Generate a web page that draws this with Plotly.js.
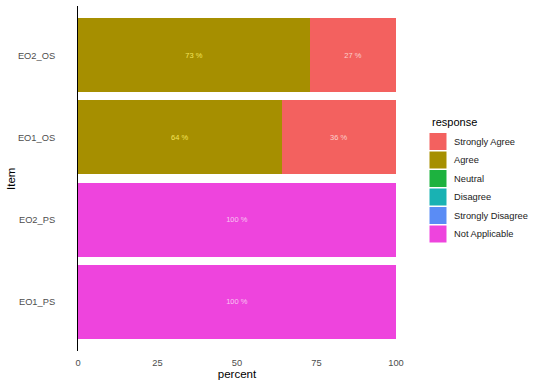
<!DOCTYPE html>
<html>
<head>
<meta charset="utf-8">
<script src="https://cdn.plot.ly/plotly-3.0.1.min.js"></script>
<style>html,body{margin:0;padding:0;background:#fff}#chart{width:540px;height:386px}</style>
</head>
<body>
<div id="chart"></div>
<script>
// Items (bottom to top)
const items = ['EO1_PS', 'EO2_PS', 'EO1_OS', 'EO2_OS'];
// Responses in legend order
const responses = ['Strongly Agree', 'Agree', 'Neutral', 'Disagree', 'Strongly Disagree', 'Not Applicable'];
// Percent values per response, aligned with items
const stronglyAgree = [0, 0, 36, 27];
const agree = [0, 0, 64, 73];
const neutral = [0, 0, 0, 0];
const disagree = [0, 0, 0, 0];
const stronglyDisagree = [0, 0, 0, 0];
const notApplicable = [100, 100, 0, 0];

const colors = ['#F3615F', '#A68F00', '#1DB23F', '#19B2B3', '#5A8CF5', '#EE44DD'];
const textColors = ['#FCD0CC', '#F2E35A', '#ffffff', '#ffffff', '#ffffff', '#F9C4F2'];
const values = [stronglyAgree, agree, neutral, disagree, stronglyDisagree, notApplicable];

// Stack order left-to-right: Not Applicable, Strongly Disagree, Disagree, Neutral, Agree, Strongly Agree
const stackOrder = [5, 4, 3, 2, 1, 0];
const font = 'Liberation Sans, Arial, Helvetica, sans-serif';

const traces = stackOrder.map(i => ({
  type: 'bar',
  orientation: 'h',
  name: responses[i],
  y: items,
  x: values[i],
  marker: {color: colors[i], line: {width: 0}},
  text: values[i].map(v => v > 0 ? v + ' %' : ''),
  texttemplate: '%{text}',
  textposition: 'inside',
  insidetextanchor: 'middle',
  textangle: 0,
  textfont: {family: font, size: 7.5, color: textColors[i]},
  hoverinfo: 'none',
  showlegend: false
}));

// plot-area pixel geometry
const L = 78, R = 396, T = 6, B = 351;
const px = x => (x - L) / (R - L);
const py = y => (B - y) / (B - T);

const shapes = [];
const annotations = [];
// y-axis title
annotations.push({xref: 'paper', yref: 'paper', x: px(11), y: py(179), xanchor: 'center', yanchor: 'middle',
  text: 'Item', textangle: -90, showarrow: false, font: {family: font, size: 11.5, color: '#000'}});
annotations.push({xref: 'paper', yref: 'paper', x: px(430), y: py(122), xanchor: 'left', yanchor: 'middle',
  text: 'response', showarrow: false, font: {family: font, size: 11, color: '#000'}});
responses.forEach((r, k) => {
  const top = 133 + k * 18.5;
  shapes.push({type: 'rect', xref: 'paper', yref: 'paper', x0: px(429.5), x1: px(446.5), y0: py(top + 17), y1: py(top),
    fillcolor: colors[k], line: {width: 0}});
  annotations.push({xref: 'paper', yref: 'paper', x: px(452), y: py(top + 8.5), xanchor: 'left', yanchor: 'middle',
    text: r, showarrow: false, font: {family: font, size: 9.3, color: '#1a1a1a'}});
});

const layout = {
  width: 540, height: 386,
  margin: {l: L, r: 540 - R, t: T, b: 386 - B, pad: 0},
  paper_bgcolor: '#fff', plot_bgcolor: '#fff',
  barmode: 'stack',
  bargap: 0.1,
  showlegend: false,
  xaxis: {
    range: [0, 100], tickvals: [0, 25, 50, 75, 100], ticktext: ['0', '25', '50', '75', '100'],
    showgrid: false, zeroline: false, showline: false, ticks: '',
    ticklabelstandoff: 5,
    tickfont: {family: font, size: 9.3, color: '#4d4d4d'},
    title: {text: 'percent', font: {family: font, size: 11.5, color: '#000'}, standoff: 1}
  },
  yaxis: {
    type: 'category', categoryorder: 'array', categoryarray: items,
    range: [-0.6, 3.6],
    showgrid: false, zeroline: false, showline: true, linecolor: '#000', linewidth: 1, ticks: '',
    ticklabelstandoff: 20,
    tickfont: {family: font, size: 9.3, color: '#4d4d4d'}
  },
  shapes: shapes,
  annotations: annotations
};

Plotly.newPlot('chart', traces, layout, {displayModeBar: false, staticPlot: true});
</script>
</body>
</html>
